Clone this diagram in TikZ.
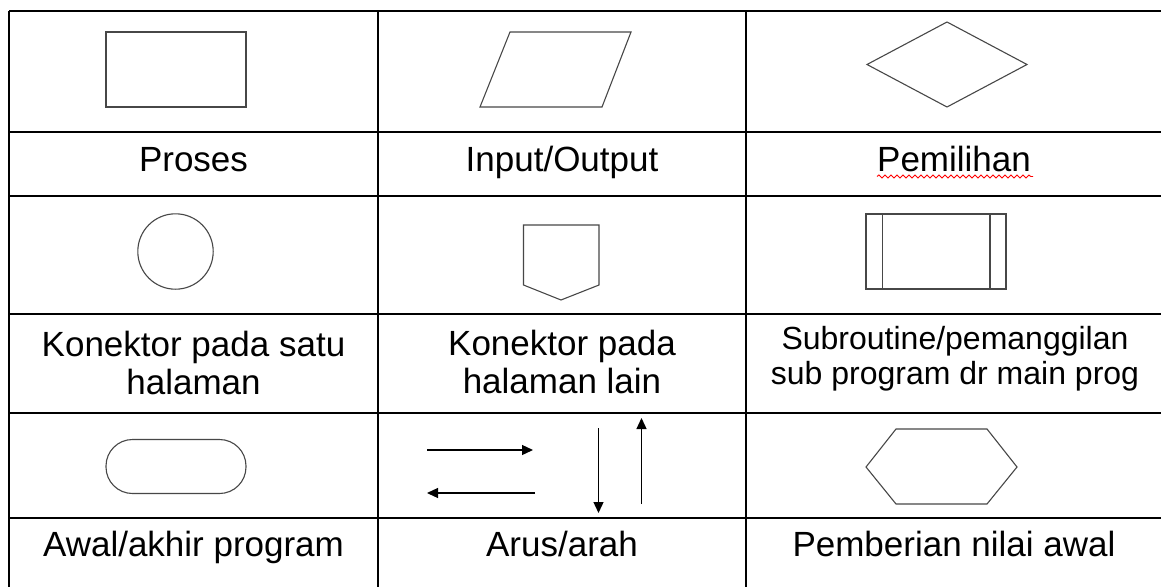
\documentclass[tikz,border=0pt]{standalone}
\usepackage{fontspec}
\setmainfont{Liberation Sans}
\usetikzlibrary{arrows.meta,decorations.pathmorphing}
\begin{document}
\begin{tikzpicture}[x=1pt,y=-1pt,
  gridline/.style={line width=1.7pt,draw=black},
  symbol/.style={line width=1.1pt,draw=black!72},
  flow/.style={line width=1.3pt,draw=black,-{Triangle[length=11pt,width=10pt]}},
  caption/.style={anchor=base,inner sep=0pt,font=\fontsize{35}{38}\selectfont},
  smallcaption/.style={anchor=base,inner sep=0pt,font=\fontsize{32}{35}\selectfont},
  spellmark/.style={draw=red,line width=0.9pt,decorate,
    decoration={snake,amplitude=1.5pt,segment length=6pt}}]
\useasboundingbox (0,0) rectangle (1161,586);
\clip (0,0) rectangle (1161,586);
\fill[white] (0,0) rectangle (1161,586);

% table rules
\foreach \ry in {11,132,196,314,413,518}
  \draw[gridline] (9,\ry) -- (1175,\ry);
\foreach \cx in {9,378,746}
  \draw[gridline] (\cx,11) -- (\cx,600);

% row 1: process, input/output, decision
\draw[symbol] (106,32) rectangle (246,107);
\draw[symbol] (510,32) -- (631,32) -- (602,107) -- (480,107) -- cycle;
\draw[symbol] (867,64.5) -- (947,22) -- (1027,64.5) -- (947,107) -- cycle;

\node[caption] (proses) at (193.5,171) {Proses};
\node[caption] (io) at (562,171) {Input/Output};
\node[caption] (pemilihan) at (954,171) {Pemilihan};
\draw[spellmark] (877,176.5) -- (1033,176.5);

% row 3: on-page connector, off-page connector, subroutine
\draw[symbol] (175.5,251.5) circle[radius=37.7];
\draw[symbol] (523.5,225) -- (599,225) -- (599,285) -- (561,300) -- (523.5,285) -- cycle;
\draw[symbol] (866,214) rectangle (1006,289);
\draw[symbol] (882.5,214) -- (882.5,289);
\draw[symbol] (990,214) -- (990,289);

\node[caption] (satu1) at (193.5,356) {Konektor pada satu};
\node[caption] (satu2) at (193.5,394) {halaman};
\node[caption] (lain1) at (562,355) {Konektor pada};
\node[caption] (lain2) at (562,393) {halaman lain};
\node[smallcaption] (sub1) at (955,349) {Subroutine/pemanggilan};
\node[smallcaption] (sub2) at (955,384) {sub program dr main prog};

% row 5: terminator, flow lines, preparation
\draw[symbol,rounded corners=26.5pt] (106,439.5) rectangle (246,493.5);

\coordinate (rA) at (427,450);
\coordinate (rB) at (533,450);
\coordinate (lA) at (535,493);
\coordinate (lB) at (427,493);
\coordinate (dA) at (598.5,428);
\coordinate (dB) at (598.5,513);
\coordinate (uA) at (641.5,504);
\coordinate (uB) at (641.5,418);
\draw[flow] (rA) -- (rB);
\draw[flow] (lA) -- (lB);
\draw[flow] (dA) -- (dB);
\draw[flow] (uA) -- (uB);

\draw[symbol] (866,467) -- (896,429) -- (987,429) -- (1017,467) -- (987,504) -- (896,504) -- cycle;

\node[caption] (awal) at (193.5,556.5) {Awal/akhir program};
\node[caption] (arus) at (562,556.5) {Arus/arah};
\node[caption] (nilai) at (954,556.5) {Pemberian nilai awal};
\end{tikzpicture}
\end{document}
